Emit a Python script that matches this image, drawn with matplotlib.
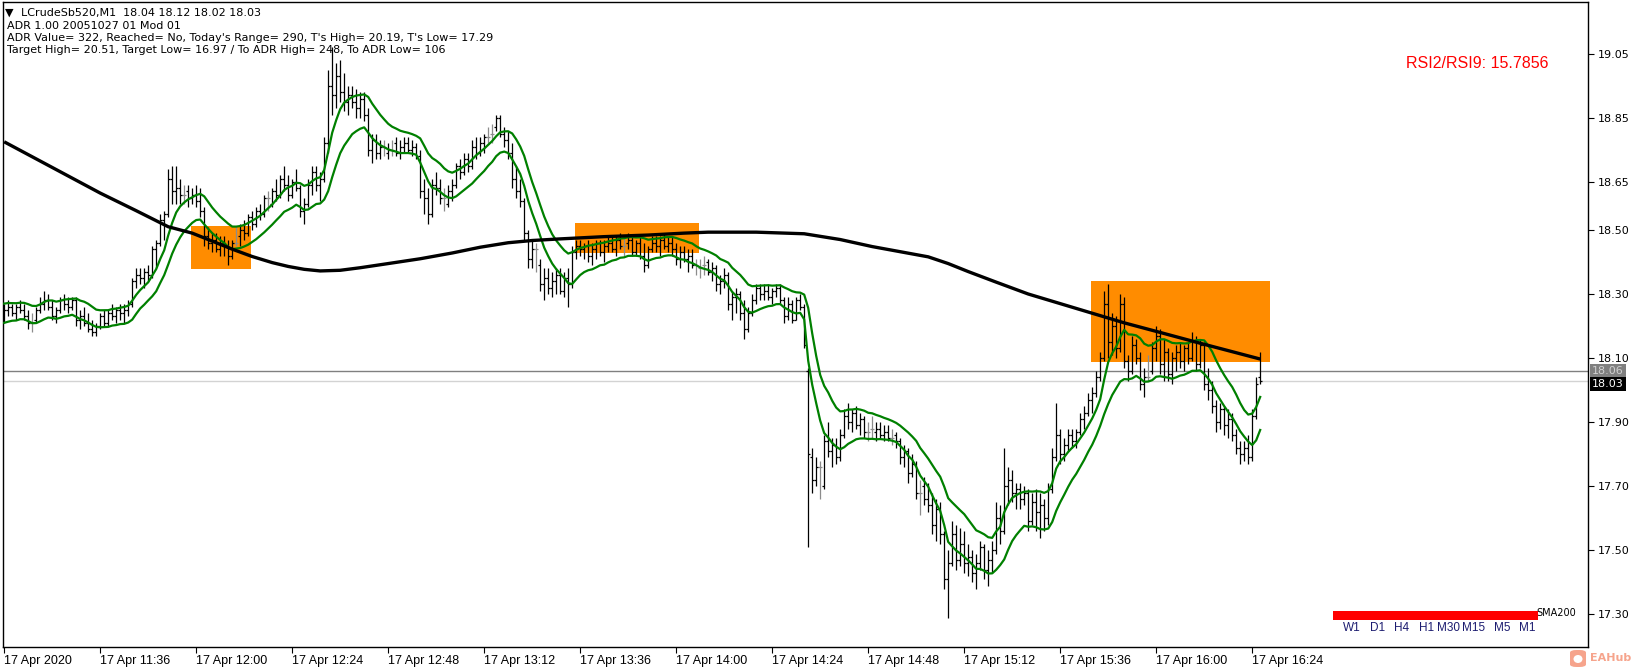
import numpy as np
import pandas as pd
import matplotlib
matplotlib.use("Agg")
import matplotlib.pyplot as plt
from matplotlib.patches import Rectangle, FancyBboxPatch, Ellipse
import matplotlib.transforms as mtransforms

# ---------------- data ----------------
opens = [
    18.24,18.25,18.26,18.24,18.26,18.25,18.23,18.21,18.22,18.25,
    18.27,18.28,18.26,18.23,18.25,18.28,18.27,18.26,18.28,18.22,
    18.23,18.21,18.19,18.18,18.20,18.23,18.21,18.24,18.23,18.25,
    18.24,18.25,18.27,18.34,18.36,18.35,18.37,18.36,18.44,18.46,
    18.53,18.55,18.66,18.62,18.63,18.61,18.62,18.60,18.61,18.59,
    18.56,18.48,18.46,18.47,18.44,18.46,18.45,18.42,18.46,18.48,
    18.50,18.49,18.54,18.52,18.56,18.55,18.60,18.58,18.62,18.61,
    18.66,18.64,18.61,18.65,18.63,18.56,18.58,18.64,18.68,18.64,
    18.66,18.77,18.95,18.92,18.98,18.93,18.90,18.92,18.90,18.88,
    18.91,18.86,18.75,18.78,18.74,18.76,18.74,18.75,18.77,18.74,
    18.76,18.77,18.75,18.76,18.73,18.62,18.60,18.55,18.64,18.63,
    18.60,18.58,18.62,18.64,18.70,18.68,18.72,18.70,18.76,18.74,
    18.77,18.79,18.80,18.82,18.85,18.80,18.78,18.74,18.66,18.62,
    18.59,18.49,18.41,18.44,18.39,18.33,18.35,18.32,18.34,18.36,
    18.31,18.35,18.33,18.43,18.45,18.44,18.45,18.42,18.44,18.46,
    18.43,18.45,18.46,18.44,18.47,18.45,18.46,18.47,18.43,18.46,
    18.42,18.39,18.44,18.46,18.45,18.47,18.45,18.46,18.44,18.41,
    18.43,18.41,18.42,18.39,18.38,18.39,18.40,18.37,18.38,18.33,
    18.34,18.36,18.27,18.29,18.30,18.24,18.19,18.24,18.28,18.32,
    18.30,18.31,18.29,18.31,18.32,18.28,18.23,18.27,18.22,18.28,
    18.26,18.06,17.79,17.72,17.76,17.70,17.84,17.81,17.83,17.79,
    17.86,17.92,17.90,17.93,17.89,17.91,17.87,17.88,17.87,17.88,
    17.86,17.87,17.85,17.86,17.84,17.79,17.81,17.74,17.77,17.68,
    17.70,17.66,17.64,17.58,17.63,17.55,17.41,17.46,17.55,17.47,
    17.52,17.46,17.48,17.43,17.46,17.51,17.44,17.47,17.50,17.60,
    17.56,17.70,17.72,17.68,17.69,17.66,17.68,17.59,17.65,17.62,
    17.64,17.60,17.69,17.79,17.86,17.80,17.83,17.86,17.84,17.87,
    17.91,17.93,17.97,17.99,18.04,18.10,18.27,18.15,18.20,18.13,
    18.27,18.09,18.06,18.14,18.10,18.02,18.04,18.06,18.13,18.17,
    18.08,18.12,18.05,18.10,18.12,18.09,18.13,18.10,18.15,18.08,
    18.14,18.02,18.00,17.95,17.90,17.94,17.89,17.91,17.86,17.82,
    17.80,17.82,17.79,17.92,18.04,
]
highs = [
    18.27,18.28,18.27,18.27,18.28,18.27,18.25,18.24,18.26,18.29,
    18.31,18.30,18.28,18.26,18.29,18.30,18.29,18.29,18.29,18.25,
    18.26,18.24,18.22,18.21,18.24,18.25,18.25,18.27,18.26,18.27,
    18.27,18.28,18.35,18.38,18.38,18.38,18.39,18.45,18.47,18.55,
    18.56,18.69,18.70,18.70,18.66,18.64,18.64,18.63,18.64,18.63,
    18.57,18.51,18.49,18.49,18.48,18.48,18.47,18.47,18.51,18.52,
    18.53,18.55,18.56,18.57,18.58,18.61,18.62,18.63,18.66,18.67,
    18.70,18.67,18.66,18.69,18.64,18.60,18.66,18.70,18.70,18.68,
    18.79,19.00,19.07,19.02,19.03,18.99,18.95,18.95,18.94,18.93,
    18.93,18.88,18.80,18.80,18.78,18.78,18.77,18.78,18.79,18.78,
    18.79,18.79,18.78,18.77,18.75,18.66,18.63,18.66,18.68,18.66,
    18.63,18.64,18.66,18.71,18.72,18.74,18.74,18.78,18.79,18.79,
    18.80,18.82,18.83,18.86,18.86,18.82,18.81,18.77,18.70,18.66,
    18.60,18.50,18.47,18.46,18.41,18.38,18.38,18.37,18.38,18.38,
    18.37,18.38,18.45,18.47,18.47,18.46,18.47,18.46,18.47,18.47,
    18.47,18.48,18.48,18.48,18.49,18.48,18.49,18.48,18.47,18.48,
    18.46,18.45,18.48,18.48,18.48,18.49,18.48,18.48,18.46,18.45,
    18.45,18.44,18.44,18.41,18.41,18.42,18.41,18.40,18.39,18.36,
    18.38,18.37,18.31,18.32,18.31,18.28,18.26,18.30,18.33,18.33,
    18.33,18.33,18.32,18.33,18.33,18.29,18.29,18.28,18.29,18.30,
    18.27,18.07,17.82,17.79,17.78,17.86,17.90,17.85,17.85,17.88,
    17.94,17.96,17.94,17.95,17.93,17.92,17.90,17.92,17.90,17.90,
    17.89,17.89,17.88,17.87,17.85,17.83,17.82,17.80,17.78,17.72,
    17.73,17.71,17.68,17.66,17.65,17.56,17.50,17.59,17.58,17.57,
    17.56,17.52,17.50,17.49,17.53,17.52,17.50,17.53,17.65,17.64,
    17.82,17.76,17.75,17.71,17.71,17.70,17.69,17.68,17.69,17.68,
    17.66,17.71,17.82,17.96,17.88,17.85,17.88,17.88,17.88,17.93,
    17.95,17.99,18.01,18.06,18.12,18.31,18.33,18.24,18.23,18.30,
    18.29,18.11,18.17,18.16,18.12,18.07,18.11,18.15,18.20,18.19,
    18.16,18.13,18.12,18.14,18.15,18.14,18.15,18.18,18.17,18.16,
    18.15,18.07,18.03,17.97,17.96,17.95,17.94,17.93,17.88,17.84,
    17.84,17.86,17.94,18.04,18.12,
]
lows = [
    18.21,18.23,18.23,18.22,18.24,18.22,18.19,18.18,18.21,18.24,
    18.25,18.25,18.22,18.21,18.24,18.25,18.24,18.25,18.20,18.19,
    18.20,18.18,18.17,18.17,18.19,18.20,18.20,18.22,18.21,18.22,
    18.21,18.23,18.26,18.32,18.33,18.32,18.34,18.35,18.38,18.45,
    18.47,18.54,18.58,18.58,18.58,18.58,18.57,18.58,18.57,18.54,
    18.45,18.44,18.43,18.43,18.42,18.42,18.39,18.41,18.45,18.45,
    18.47,18.48,18.50,18.51,18.53,18.54,18.56,18.57,18.59,18.60,
    18.62,18.59,18.60,18.62,18.54,18.52,18.57,18.61,18.62,18.59,
    18.65,18.74,18.86,18.88,18.90,18.87,18.86,18.88,18.85,18.85,
    18.84,18.73,18.71,18.72,18.72,18.73,18.72,18.73,18.73,18.72,
    18.74,18.74,18.73,18.72,18.60,18.55,18.52,18.54,18.61,18.58,
    18.56,18.57,18.59,18.63,18.66,18.67,18.68,18.69,18.72,18.73,
    18.74,18.77,18.77,18.81,18.79,18.76,18.72,18.63,18.60,18.57,
    18.47,18.38,18.38,18.37,18.31,18.28,18.30,18.29,18.30,18.30,
    18.29,18.26,18.32,18.41,18.42,18.41,18.40,18.39,18.41,18.42,
    18.40,18.43,18.43,18.42,18.44,18.42,18.44,18.42,18.42,18.41,
    18.37,18.38,18.43,18.43,18.42,18.44,18.43,18.42,18.39,18.38,
    18.40,18.37,18.38,18.36,18.35,18.36,18.36,18.34,18.31,18.30,
    18.32,18.25,18.22,18.24,18.22,18.16,18.18,18.23,18.27,18.28,
    18.28,18.28,18.27,18.29,18.27,18.21,18.22,18.21,18.22,18.25,
    18.13,17.51,17.68,17.70,17.66,17.69,17.79,17.76,17.77,17.78,
    17.85,17.88,17.87,17.88,17.86,17.85,17.84,17.85,17.84,17.85,
    17.84,17.84,17.83,17.82,17.77,17.76,17.71,17.73,17.66,17.61,
    17.64,17.62,17.55,17.53,17.52,17.38,17.29,17.45,17.44,17.45,
    17.43,17.42,17.40,17.38,17.44,17.41,17.39,17.43,17.49,17.52,
    17.55,17.64,17.65,17.63,17.63,17.64,17.56,17.58,17.56,17.54,
    17.56,17.58,17.68,17.78,17.77,17.78,17.81,17.82,17.82,17.86,
    17.88,17.92,17.93,17.98,18.03,18.09,18.10,18.11,18.10,18.12,
    18.07,18.03,18.05,18.08,18.00,17.98,18.03,18.05,18.09,18.05,
    18.03,18.03,18.02,18.06,18.07,18.06,18.08,18.09,18.06,18.07,
    18.00,17.97,17.93,17.87,17.88,17.86,17.85,17.84,17.80,17.77,
    17.78,17.77,17.78,17.91,18.02,
]
closes = [
    18.25,18.26,18.24,18.26,18.25,18.23,18.21,18.21,18.25,18.27,
    18.28,18.26,18.23,18.25,18.28,18.27,18.26,18.28,18.22,18.23,
    18.21,18.19,18.18,18.20,18.23,18.21,18.24,18.23,18.25,18.24,
    18.25,18.27,18.34,18.36,18.35,18.37,18.36,18.44,18.46,18.53,
    18.55,18.66,18.62,18.63,18.61,18.61,18.60,18.61,18.59,18.56,
    18.48,18.46,18.47,18.44,18.46,18.45,18.42,18.46,18.46,18.50,
    18.49,18.54,18.52,18.56,18.55,18.60,18.60,18.62,18.61,18.66,
    18.64,18.61,18.65,18.63,18.56,18.58,18.64,18.68,18.64,18.66,
    18.77,18.95,18.92,18.98,18.93,18.90,18.92,18.90,18.88,18.91,
    18.86,18.75,18.78,18.74,18.76,18.76,18.75,18.75,18.74,18.76,
    18.77,18.75,18.76,18.73,18.62,18.60,18.55,18.64,18.63,18.60,
    18.60,18.62,18.64,18.70,18.68,18.72,18.70,18.76,18.74,18.77,
    18.79,18.79,18.80,18.85,18.80,18.78,18.74,18.66,18.62,18.59,
    18.49,18.41,18.44,18.44,18.33,18.35,18.32,18.34,18.36,18.31,
    18.35,18.33,18.43,18.45,18.44,18.45,18.42,18.44,18.46,18.43,
    18.45,18.46,18.44,18.47,18.45,18.45,18.47,18.43,18.46,18.42,
    18.39,18.44,18.46,18.45,18.47,18.45,18.46,18.44,18.41,18.43,
    18.41,18.42,18.39,18.39,18.38,18.39,18.37,18.38,18.33,18.34,
    18.36,18.27,18.29,18.30,18.24,18.19,18.24,18.28,18.32,18.30,
    18.31,18.29,18.31,18.32,18.28,18.23,18.27,18.22,18.28,18.26,
    18.14,17.80,17.72,17.76,17.76,17.84,17.81,17.83,17.79,17.86,
    17.92,17.90,17.93,17.89,17.91,17.87,17.87,17.88,17.88,17.86,
    17.87,17.85,17.85,17.84,17.79,17.81,17.74,17.77,17.68,17.68,
    17.66,17.64,17.58,17.63,17.55,17.41,17.46,17.55,17.47,17.52,
    17.46,17.48,17.43,17.46,17.51,17.44,17.47,17.50,17.60,17.56,
    17.70,17.72,17.68,17.69,17.66,17.68,17.59,17.65,17.62,17.64,
    17.60,17.69,17.79,17.86,17.80,17.83,17.86,17.84,17.87,17.91,
    17.93,17.97,17.99,18.04,18.10,18.27,18.15,18.20,18.13,18.27,
    18.09,18.06,18.14,18.10,18.02,18.04,18.04,18.13,18.17,18.08,
    18.12,18.05,18.10,18.12,18.09,18.13,18.10,18.15,18.08,18.14,
    18.02,18.00,17.95,17.90,17.94,17.89,17.91,17.86,17.82,17.80,
    17.82,17.79,17.92,18.02,18.03,
]
assert len(opens) == len(highs) == len(lows) == len(closes) == 315

# SMA200 (minute index, value)
sma_minutes = [0, 12, 24, 33, 41, 47, 51, 57, 62, 67, 71, 75, 79, 84, 89, 96,
               104, 112, 119, 126, 132, 139, 150, 161, 170, 176, 188, 200, 209,
               217, 224, 231, 236, 241, 248, 256, 264, 272, 280, 289, 300, 314]
sma_values = [18.775, 18.695, 18.615, 18.56, 18.51, 18.49, 18.47, 18.44, 18.417,
              18.398, 18.386, 18.377, 18.372, 18.374, 18.382, 18.395, 18.41,
              18.428, 18.446, 18.46, 18.467, 18.472, 18.479, 18.484, 18.49,
              18.493, 18.493, 18.488, 18.47, 18.448, 18.432, 18.416, 18.395,
              18.37, 18.337, 18.30, 18.27, 18.24, 18.21, 18.18, 18.143, 18.097]

# highlighted zones: start minute, end minute, low, high
zone_start = [46.7, 142.7, 271.7]
zone_end = [61.7, 173.7, 316.5]
zone_low = [18.378, 18.429, 18.089]
zone_high = [18.512, 18.521, 18.340]

ask_price = 18.06
bid_price = 18.03

xtick_minutes = [0, 24, 48, 72, 96, 120, 144, 168, 192, 216, 240, 264, 288, 312]
xtick_labels = ["17 Apr 2020", "17 Apr 11:36", "17 Apr 12:00", "17 Apr 12:24",
                "17 Apr 12:48", "17 Apr 13:12", "17 Apr 13:36", "17 Apr 14:00",
                "17 Apr 14:24", "17 Apr 14:48", "17 Apr 15:12", "17 Apr 15:36",
                "17 Apr 16:00", "17 Apr 16:24"]
ytick_values = [17.30, 17.50, 17.70, 17.90, 18.10, 18.30, 18.50, 18.65, 18.85, 19.05]

timeframes = ["W1", "D1", "H4", "H1", "M30", "M15", "M5", "M1"]
info_lines = [
    "LCrudeSb520,M1  18.04 18.12 18.02 18.03",
    "ADR 1.00 20051027 01 Mod 01",
    "ADR Value= 322, Reached= No, Today's Range= 290, T's High= 20.19, T's Low= 17.29",
    "Target High= 20.51, Target Low= 16.97 / To ADR High= 248, To ADR Low= 106",
]
rsi_text = "RSI2/RSI9: 15.7856"

# ---------------- figure ----------------
W, H = 1637, 671
fig = plt.figure(figsize=(W / 100, H / 100), dpi=100)
fig.patch.set_facecolor("white")

def fx(px):
    return px / W

def fy(py):
    return 1 - py / H

ax_left, ax_right, ax_top, ax_bottom = 2.6, 1588, 1.5, 647
ax = fig.add_axes([fx(ax_left), fy(ax_bottom), (ax_right - ax_left) / W,
                   (ax_bottom - ax_top) / H])
ax.set_facecolor("white")

t = np.arange(len(opens))
o = np.array(opens); h = np.array(highs); l = np.array(lows); c = np.array(closes)

# zones
for s, e, lo, hi in zip(zone_start, zone_end, zone_low, zone_high):
    ax.add_patch(Rectangle((s, lo), e - s, hi - lo, facecolor="#FF8C00",
                           edgecolor="none", zorder=0.5))

# ask / bid lines
ax.axhline(ask_price, color="#808080", lw=1.0, zorder=1)
ax.axhline(bid_price, color="#d3d3d3", lw=1.0, zorder=1)

# OHLC bars
cols = ["#8c8c8c" if oo == cc else "black" for oo, cc in zip(o, c)]
ax.vlines(t, l, h, colors=cols, lw=0.9, zorder=3)
ax.hlines(o, t - 0.45, t, colors=cols, lw=0.9, zorder=3)
ax.hlines(c, t, t + 0.45, colors=cols, lw=0.9, zorder=3)

# envelopes (moving averages of highs and lows)
ma_hi = pd.Series(h).ewm(span=10, adjust=False).mean()
ma_lo = pd.Series(l).ewm(span=10, adjust=False).mean()
ax.plot(t, ma_hi, color="#008000", lw=1.6, zorder=4)
ax.plot(t, ma_lo, color="#008000", lw=1.6, zorder=4)

# SMA200
ax.plot(sma_minutes, sma_values, color="black", lw=2.4, zorder=5,
        solid_capstyle="butt", solid_joinstyle="round")

ax.set_xlim(-0.4, 395.95)
ax.set_ylim(19.05 - (ax_bottom - 53.7) / 320.4, 19.05 + (53.7 - ax_top) / 320.4)

for sp in ax.spines.values():
    sp.set_color("black")
    sp.set_linewidth(1.0)

ax.set_xticks(xtick_minutes)
ax.set_xticklabels(xtick_labels, ha="left", fontsize=9,
                   family=["Liberation Sans", "DejaVu Sans"])
ax.tick_params(axis="x", direction="out", length=4, width=0.8, pad=1.5,
               colors="black")
ax.yaxis.tick_right()
ax.set_yticks(ytick_values)
ax.set_yticklabels([f"{v:.2f}" for v in ytick_values], fontsize=8,
                   family="DejaVu Sans")
ax.tick_params(axis="y", direction="out", length=4, width=0.8, pad=3,
               colors="black")

# price labels on the right axis
btr = mtransforms.blended_transform_factory(fig.transFigure, ax.transData)
ax.text(fx(1592), ask_price, f"{ask_price:.2f}", transform=btr, fontsize=8,
        color="#d0d0d0", va="center", ha="left", clip_on=False, zorder=10,
        bbox=dict(boxstyle="square,pad=0.18", fc="#808080", ec="none"))
ax.text(fx(1592), bid_price - 0.012, f"{bid_price:.2f}", transform=btr,
        fontsize=8, color="white", va="center", ha="left", clip_on=False,
        zorder=11, bbox=dict(boxstyle="square,pad=0.18", fc="black", ec="none"))

# info text top-left
fig.text(fx(9), fy(13), "\u25BC", fontsize=8, color="black", va="center",
         ha="center", family="DejaVu Sans")
ys = [13, 26, 38, 50]
xs = [21, 7, 7, 7]
for txt, xx, yy in zip(info_lines, xs, ys):
    fig.text(fx(xx), fy(yy), txt, fontsize=8, color="black", va="center",
             ha="left", family="DejaVu Sans")

# RSI text
fig.text(fx(1548), fy(63), rsi_text, fontsize=11.5, color="#ff0000",
         va="center", ha="right", family="Liberation Sans")

# timeframe strip
fig.patches.append(Rectangle((fx(1333), fy(620)), fx(1538) - fx(1333),
                             fy(611) - fy(620), transform=fig.transFigure,
                             facecolor="#ff0000", edgecolor="none", zorder=6))
tf_x = [1352, 1378, 1402, 1427, 1449, 1474, 1502, 1527]
for lab, xx in zip(timeframes, tf_x):
    fig.text(fx(xx), fy(628), lab, fontsize=8.5, color="#1c1c70",
             va="center", ha="center", family="Liberation Sans")
fig.text(fx(1536), fy(613), "SMA200", fontsize=7, color="black",
         va="center", ha="left", family="DejaVu Sans")

# watermark
fig.patches.append(FancyBboxPatch((fx(1570), fy(667)), fx(16), fy(650) - fy(667),
                                  boxstyle="round,pad=0.0,rounding_size=0.004",
                                  transform=fig.transFigure, facecolor="#f6a48c",
                                  edgecolor="none"))
fig.patches.append(Ellipse((fx(1578), fy(659)), fx(9), fy(653) - fy(661),
                           transform=fig.transFigure, facecolor="white",
                           edgecolor="none"))
fig.text(fx(1590), fy(658), "EAHub", fontsize=8, color="#f6a48c",
         fontweight="bold", va="center", ha="left", family="DejaVu Sans")

fig.savefig("out.png", dpi=100, facecolor="white")
